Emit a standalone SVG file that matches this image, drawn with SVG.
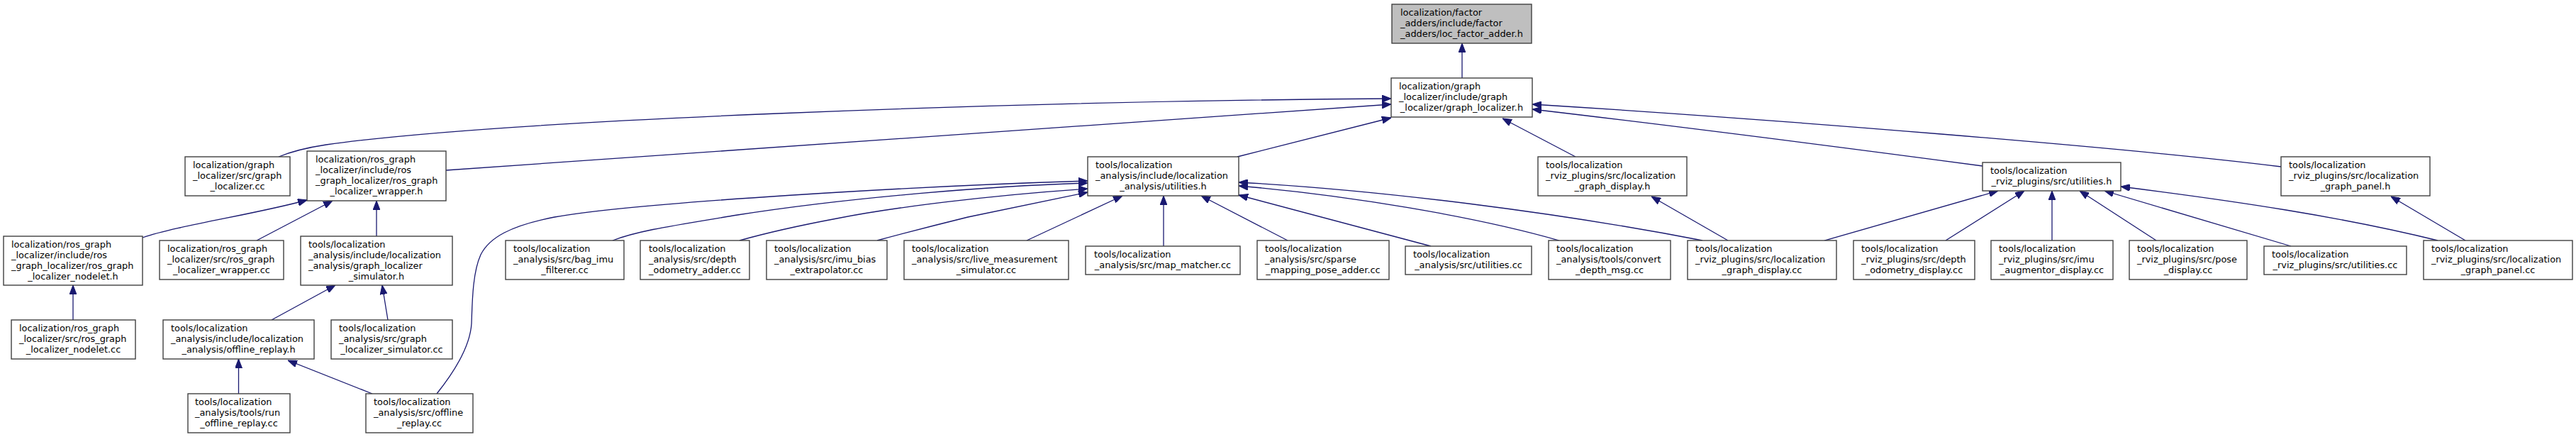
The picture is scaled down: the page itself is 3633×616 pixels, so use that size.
<svg xmlns="http://www.w3.org/2000/svg" width="3633" height="616" viewBox="0 0 3633 616">
<defs>
<marker id="ah" viewBox="0 0 13 10" refX="13" refY="5" markerWidth="13" markerHeight="10" markerUnits="userSpaceOnUse" orient="auto-start-reverse">
<path d="M0,0 L13,5 L0,10 Z" fill="#191970" stroke="#191970" stroke-width="1"/>
</marker>
<style>
.n rect{fill:#ffffff;stroke:#404040;stroke-width:1.4}
.root rect{fill:#bfbfbf}
text{font-family:"DejaVu Sans","Liberation Sans",sans-serif;font-size:12.9px;fill:#000000}
.m{text-anchor:middle}
#edges path{fill:none;stroke:#191970;stroke-width:1.3;marker-start:url(#ah)}
</style>
</defs>
<rect width="3633" height="616" fill="#ffffff"/>
<g id="edges">
<path d="M2062,61 L2062,110"/>
<path d="M1962,139 C1400,143 700,170 460,204 Q420,210 393,221"/>
<path d="M1962,147 L629,240"/>
<path d="M1962,166 L1745,221"/>
<path d="M2119,167 L2222,221"/>
<path d="M2161,147 C2500,168 3000,208 3217,235"/>
<path d="M2161,154 C2400,182 2600,208 2796,234"/>
<path d="M433,282 C360,302 250,318 201,335"/>
<path d="M469,283 L362,339"/>
<path d="M531,283 L531,333"/>
<path d="M473,402 L383,451"/>
<path d="M539,402 L547,451"/>
<path d="M103,402 L103,451"/>
<path d="M336.5,506 L336.5,555"/>
<path d="M406,508 L525,555"/>
<path d="M1534,255 C1300,262 900,285 782,306 C720,318 690,335 678,359 C666,385 666,430 665,456 C663,490 640,525 616,555"/>
<path d="M1534,258 C1400,262 1200,278 1040,303 C950,318 900,325 864,339"/>
<path d="M1534,266 C1400,275 1260,292 1180,308 Q1100,323 1043,339"/>
<path d="M1534,271 L1365,306 Q1300,322 1237,339"/>
<path d="M1583,276 L1448,339"/>
<path d="M1641,276 L1641,347"/>
<path d="M1694,276 L1816,339"/>
<path d="M1747,275 L2018,347"/>
<path d="M1747,262 C1900,275 2080,305 2199,339"/>
<path d="M1747,257 C1950,268 2200,300 2401,339"/>
<path d="M2329,277 L2437,339"/>
<path d="M2818,269 L2573,339"/>
<path d="M2855,269 L2744,339"/>
<path d="M2894,269 L2894,339"/>
<path d="M2933,269 L3041,339"/>
<path d="M2968,269 L3231,347"/>
<path d="M2991,263 C3150,283 3300,305 3438,339"/>
<path d="M3372,277 L3477,339"/>
</g>
<g id="n1" class="n root"><rect x="1963" y="6" width="197" height="55"/><text><tspan x="1975" y="21.5">localization/factor</tspan><tspan x="1975" y="36.5">_adders/include/factor</tspan><tspan class="m" x="2061.5" y="51.5">_adders/loc_factor_adder.h</tspan></text></g>
<g id="n2" class="n"><rect x="1962" y="110" width="199" height="55"/><text><tspan x="1973" y="125.5">localization/graph</tspan><tspan x="1973" y="140.5">_localizer/include/graph</tspan><tspan class="m" x="2061.5" y="155.5">_localizer/graph_localizer.h</tspan></text></g>
<g id="n3" class="n"><rect x="261" y="221" width="148" height="55"/><text><tspan x="272" y="236.5">localization/graph</tspan><tspan x="272" y="251.5">_localizer/src/graph</tspan><tspan class="m" x="335" y="266.5">_localizer.cc</tspan></text></g>
<g id="n4" class="n"><rect x="433" y="213" width="196" height="70"/><text><tspan x="445" y="228.5">localization/ros_graph</tspan><tspan x="445" y="243.5">_localizer/include/ros</tspan><tspan x="445" y="258.5">_graph_localizer/ros_graph</tspan><tspan class="m" x="531" y="273.5">_localizer_wrapper.h</tspan></text></g>
<g id="n5" class="n"><rect x="1534" y="221" width="213" height="55"/><text><tspan x="1545" y="236.5">tools/localization</tspan><tspan x="1545" y="251.5">_analysis/include/localization</tspan><tspan class="m" x="1640.5" y="266.5">_analysis/utilities.h</tspan></text></g>
<g id="n6" class="n"><rect x="2169" y="221" width="210" height="55"/><text><tspan x="2180" y="236.5">tools/localization</tspan><tspan x="2180" y="251.5">_rviz_plugins/src/localization</tspan><tspan class="m" x="2274" y="266.5">_graph_display.h</tspan></text></g>
<g id="n7" class="n"><rect x="2796" y="229" width="195" height="40"/><text><tspan x="2807" y="244.5">tools/localization</tspan><tspan class="m" x="2893.5" y="259.5">_rviz_plugins/src/utilities.h</tspan></text></g>
<g id="n8" class="n"><rect x="3217" y="221" width="210" height="55"/><text><tspan x="3228" y="236.5">tools/localization</tspan><tspan x="3228" y="251.5">_rviz_plugins/src/localization</tspan><tspan class="m" x="3322" y="266.5">_graph_panel.h</tspan></text></g>
<g id="n9" class="n"><rect x="5" y="333" width="196" height="69"/><text><tspan x="16" y="348.5">localization/ros_graph</tspan><tspan x="16" y="363.5">_localizer/include/ros</tspan><tspan x="16" y="378.5">_graph_localizer/ros_graph</tspan><tspan class="m" x="103" y="393.5">_localizer_nodelet.h</tspan></text></g>
<g id="n10" class="n"><rect x="225" y="339" width="175" height="55"/><text><tspan x="236" y="354.5">localization/ros_graph</tspan><tspan x="236" y="369.5">_localizer/src/ros_graph</tspan><tspan class="m" x="312.5" y="384.5">_localizer_wrapper.cc</tspan></text></g>
<g id="n11" class="n"><rect x="424" y="333" width="214" height="69"/><text><tspan x="435" y="348.5">tools/localization</tspan><tspan x="435" y="363.5">_analysis/include/localization</tspan><tspan x="435" y="378.5">_analysis/graph_localizer</tspan><tspan class="m" x="531" y="393.5">_simulator.h</tspan></text></g>
<g id="n12" class="n"><rect x="713" y="339" width="167" height="55"/><text><tspan x="724" y="354.5">tools/localization</tspan><tspan x="724" y="369.5">_analysis/src/bag_imu</tspan><tspan class="m" x="796.5" y="384.5">_filterer.cc</tspan></text></g>
<g id="n13" class="n"><rect x="903" y="339" width="154" height="55"/><text><tspan x="915" y="354.5">tools/localization</tspan><tspan x="915" y="369.5">_analysis/src/depth</tspan><tspan class="m" x="980" y="384.5">_odometry_adder.cc</tspan></text></g>
<g id="n14" class="n"><rect x="1081" y="339" width="170" height="55"/><text><tspan x="1092" y="354.5">tools/localization</tspan><tspan x="1092" y="369.5">_analysis/src/imu_bias</tspan><tspan class="m" x="1166" y="384.5">_extrapolator.cc</tspan></text></g>
<g id="n15" class="n"><rect x="1275" y="339" width="232" height="55"/><text><tspan x="1286" y="354.5">tools/localization</tspan><tspan x="1286" y="369.5">_analysis/src/live_measurement</tspan><tspan class="m" x="1391" y="384.5">_simulator.cc</tspan></text></g>
<g id="n16" class="n"><rect x="1531" y="347" width="218" height="40"/><text><tspan x="1543" y="362.5">tools/localization</tspan><tspan class="m" x="1640" y="377.5">_analysis/src/map_matcher.cc</tspan></text></g>
<g id="n17" class="n"><rect x="1773" y="339" width="186" height="55"/><text><tspan x="1784" y="354.5">tools/localization</tspan><tspan x="1784" y="369.5">_analysis/src/sparse</tspan><tspan class="m" x="1866" y="384.5">_mapping_pose_adder.cc</tspan></text></g>
<g id="n18" class="n"><rect x="1982" y="347" width="178" height="40"/><text><tspan x="1993" y="362.5">tools/localization</tspan><tspan class="m" x="2071" y="377.5">_analysis/src/utilities.cc</tspan></text></g>
<g id="n19" class="n"><rect x="2184" y="339" width="172" height="55"/><text><tspan x="2195" y="354.5">tools/localization</tspan><tspan x="2195" y="369.5">_analysis/tools/convert</tspan><tspan class="m" x="2270" y="384.5">_depth_msg.cc</tspan></text></g>
<g id="n20" class="n"><rect x="2380" y="339" width="210" height="55"/><text><tspan x="2391" y="354.5">tools/localization</tspan><tspan x="2391" y="369.5">_rviz_plugins/src/localization</tspan><tspan class="m" x="2485" y="384.5">_graph_display.cc</tspan></text></g>
<g id="n21" class="n"><rect x="2614" y="339" width="171" height="55"/><text><tspan x="2625" y="354.5">tools/localization</tspan><tspan x="2625" y="369.5">_rviz_plugins/src/depth</tspan><tspan class="m" x="2699.5" y="384.5">_odometry_display.cc</tspan></text></g>
<g id="n22" class="n"><rect x="2808" y="339" width="172" height="55"/><text><tspan x="2819" y="354.5">tools/localization</tspan><tspan x="2819" y="369.5">_rviz_plugins/src/imu</tspan><tspan class="m" x="2894" y="384.5">_augmentor_display.cc</tspan></text></g>
<g id="n23" class="n"><rect x="3003" y="339" width="166" height="55"/><text><tspan x="3014" y="354.5">tools/localization</tspan><tspan x="3014" y="369.5">_rviz_plugins/src/pose</tspan><tspan class="m" x="3086" y="384.5">_display.cc</tspan></text></g>
<g id="n24" class="n"><rect x="3193" y="347" width="201" height="40"/><text><tspan x="3204" y="362.5">tools/localization</tspan><tspan class="m" x="3293.5" y="377.5">_rviz_plugins/src/utilities.cc</tspan></text></g>
<g id="n25" class="n"><rect x="3418" y="339" width="210" height="55"/><text><tspan x="3429" y="354.5">tools/localization</tspan><tspan x="3429" y="369.5">_rviz_plugins/src/localization</tspan><tspan class="m" x="3523" y="384.5">_graph_panel.cc</tspan></text></g>
<g id="n26" class="n"><rect x="16" y="451" width="175" height="55"/><text><tspan x="27" y="466.5">localization/ros_graph</tspan><tspan x="27" y="481.5">_localizer/src/ros_graph</tspan><tspan class="m" x="103.5" y="496.5">_localizer_nodelet.cc</tspan></text></g>
<g id="n27" class="n"><rect x="230" y="451" width="213" height="55"/><text><tspan x="241" y="466.5">tools/localization</tspan><tspan x="241" y="481.5">_analysis/include/localization</tspan><tspan class="m" x="336.5" y="496.5">_analysis/offline_replay.h</tspan></text></g>
<g id="n28" class="n"><rect x="467" y="451" width="171" height="55"/><text><tspan x="478" y="466.5">tools/localization</tspan><tspan x="478" y="481.5">_analysis/src/graph</tspan><tspan class="m" x="552.5" y="496.5">_localizer_simulator.cc</tspan></text></g>
<g id="n29" class="n"><rect x="265" y="555" width="144" height="55"/><text><tspan x="275" y="570.5">tools/localization</tspan><tspan x="275" y="585.5">_analysis/tools/run</tspan><tspan class="m" x="337" y="600.5">_offline_replay.cc</tspan></text></g>
<g id="n30" class="n"><rect x="516" y="555" width="151" height="55"/><text><tspan x="527" y="570.5">tools/localization</tspan><tspan x="527" y="585.5">_analysis/src/offline</tspan><tspan class="m" x="591.5" y="600.5">_replay.cc</tspan></text></g>
</svg>
